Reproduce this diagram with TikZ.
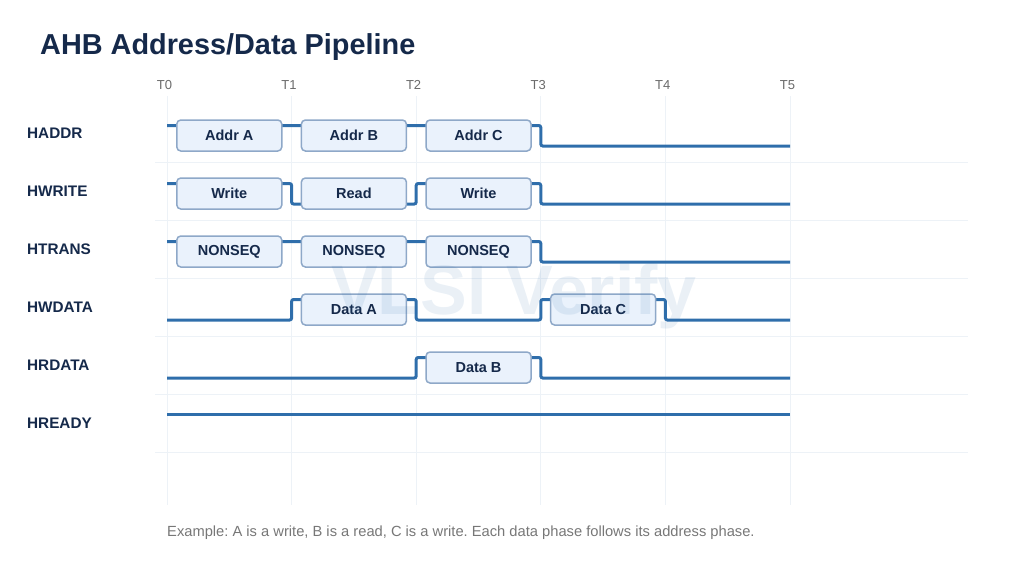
\documentclass[tikz,border=0pt]{standalone}
\usepackage{fontspec}
\setmainfont{Liberation Sans}
\usepackage{tikz}
\usetikzlibrary{positioning, calc}

\definecolor{navy}{HTML}{15294A}
\definecolor{wireblue}{HTML}{2F6EAB}
\definecolor{boxedge}{HTML}{8EA8C8}
\definecolor{boxfill}{HTML}{EAF2FC}
\definecolor{gridline}{HTML}{EDF2F7}
\definecolor{ticktext}{HTML}{6A6A6A}
\definecolor{notetext}{HTML}{777777}

\begin{document}
\frenchspacing
\begin{tikzpicture}[x=1pt, y=-1pt,%
        title/.style={anchor=base west, inner sep=0pt, text=navy, font=\fontsize{28.85}{33}\selectfont\bfseries},
        signame/.style={anchor=base west, inner sep=0pt, text=navy, font=\fontsize{15.3}{18}\selectfont\bfseries},
        tick/.style={anchor=base, inner sep=0pt, text=ticktext, font=\fontsize{13}{15}\selectfont},
        phase/.style={rectangle, draw=boxedge, fill=boxfill, line width=1.5pt, rounded corners=4pt, minimum width=105pt, minimum height=31pt, inner sep=0pt, text=navy, font=\fontsize{14.5}{17}\selectfont\bfseries},
        wave/.style={wireblue, line width=3pt, rounded corners=2pt},
        grid/.style={gridline, line width=1pt}%
    ]
        \useasboundingbox (0,0) rectangle (1024,563);

        % title and time marks
        \node[title] (head) at (40,54) {AHB Address/Data Pipeline};
        \node[tick] (t0) at (164.5,89) {T0};
        \node[tick] (t1) at (289,89) {T1};
        \node[tick] (t2) at (413.6,89) {T2};
        \node[tick] (t3) at (538.2,89) {T3};
        \node[tick] (t4) at (662.8,89) {T4};
        \node[tick] (t5) at (787.5,89) {T5};

        % faint grid
        \foreach \x in {167,291.6,416.2,540.8,665.4,790}
            \draw[grid] (\x,96) -- (\x,505);
        \foreach \y in {162,220,278,336,394,452}
            \draw[grid] (155,\y) -- (968,\y);

        % signal names
        \node[signame] (haddr) at (27,138.5) {HADDR};
        \node[signame] (hwrite) at (27,196.5) {HWRITE};
        \node[signame] (htrans) at (27,254.5) {HTRANS};
        \node[signame] (hwdata) at (27,312.5) {HWDATA};
        \node[signame] (hrdata) at (27,370.5) {HRDATA};
        \node[signame] (hready) at (27,428.5) {HREADY};

        % waveforms
        \draw[wave] (167,125.5) -- (540.8,125.5) -- (540.8,146) -- (790,146);
        \draw[wave] (167,183.5) -- (291.6,183.5) -- (291.6,204) -- (416.2,204) -- (416.2,183.5) -- (540.8,183.5) -- (540.8,204) -- (790,204);
        \draw[wave] (167,241.5) -- (540.8,241.5) -- (540.8,262) -- (790,262);
        \draw[wave] (167,320) -- (291.6,320) -- (291.6,299.5) -- (416.2,299.5) -- (416.2,320) -- (540.8,320) -- (540.8,299.5) -- (665.4,299.5) -- (665.4,320) -- (790,320);
        \draw[wave] (167,378) -- (416.2,378) -- (416.2,357.5) -- (540.8,357.5) -- (540.8,378) -- (790,378);
        \draw[wave] (167,414) -- (790,414);

        % phases
        \node[phase] (addra) at (229.3,135.5) {Addr A};
        \node[phase] (addrb) at (353.9,135.5) {Addr B};
        \node[phase] (addrc) at (478.5,135.5) {Addr C};

        \node[phase] (wra) at (229.3,193.5) {Write};
        \node[phase] (rdb) at (353.9,193.5) {Read};
        \node[phase] (wrc) at (478.5,193.5) {Write};

        \node[phase] (nsa) at (229.3,251.5) {NONSEQ};
        \node[phase] (nsb) at (353.9,251.5) {NONSEQ};
        \node[phase] (nsc) at (478.5,251.5) {NONSEQ};

        \node[phase] (dataa) at (353.9,309.5) {Data A};
        \node[phase] (datac) at (603.1,309.5) {Data C};
        \node[phase] (datab) at (478.5,367.5) {Data B};

        % note and watermark
        \node[anchor=base west, inner sep=0pt, text=notetext, font=\fontsize{14.7}{18}\selectfont] (note) at (167,536) {Example: A is a write, B is a read, C is a write. Each data phase follows its address phase.};
        \node[anchor=base, inner sep=0pt, text=wireblue, text opacity=0.1, font=\fontsize{70}{80}\selectfont\bfseries] (mark) at (514,314) {VLSI Verify};
\end{tikzpicture}
\end{document}
